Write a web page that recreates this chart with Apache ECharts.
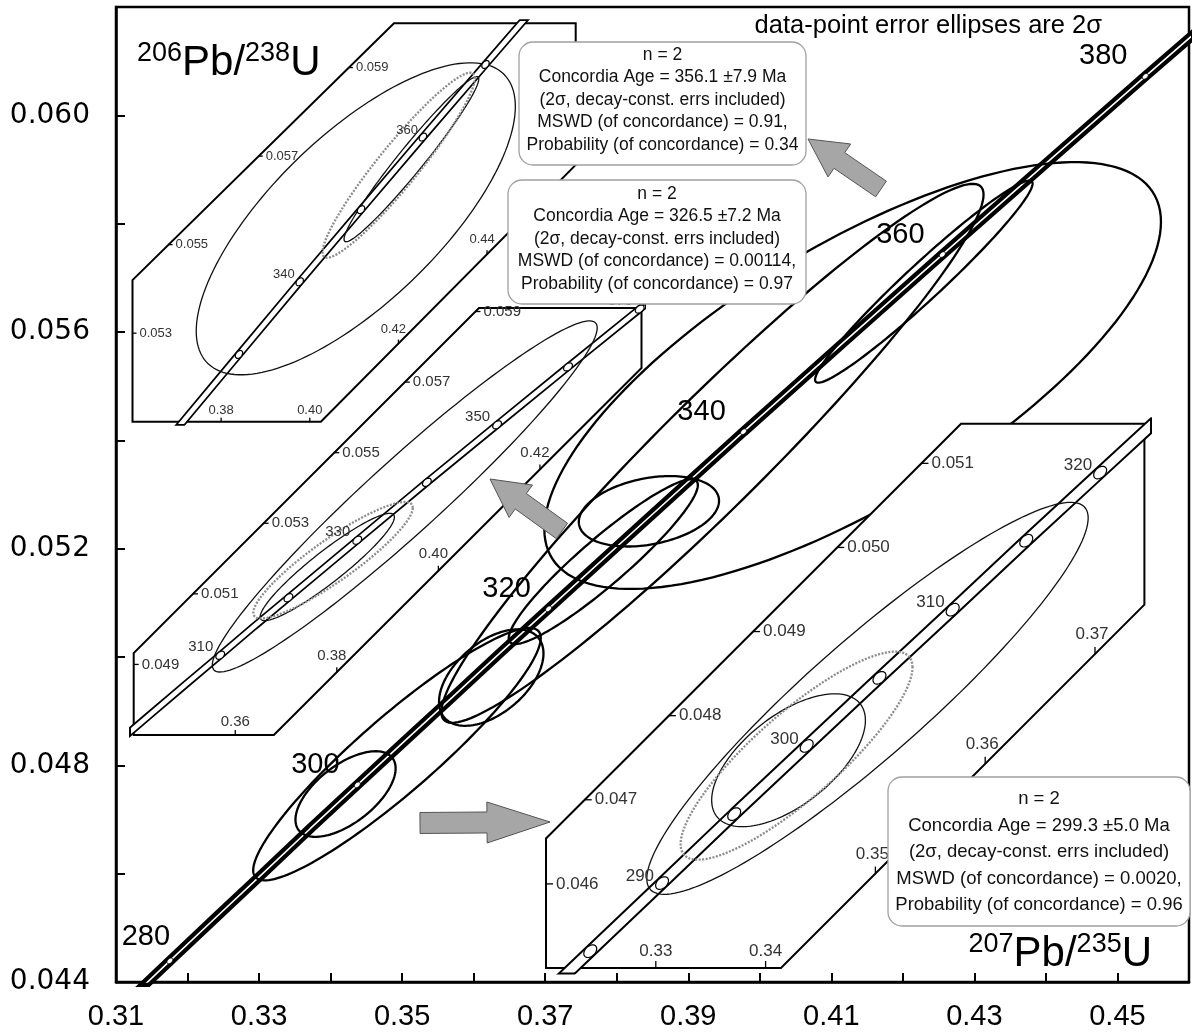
<!DOCTYPE html>
<html>
<head>
<meta charset="utf-8">
<title>U-Pb Concordia</title>
<script src="https://cdn.jsdelivr.net/npm/echarts@6.0.0/dist/echarts.min.js"></script>
<style>
html,body{margin:0;padding:0;background:#ffffff;}
#chart{width:1192px;height:1035px;}
</style>
</head>
<body>
<div id="chart"></div>
<script>
// ================= DATA =================
// Concordia curve points (age Ma, 207Pb/235U, 206Pb/238U)
const concAge = [270, 280, 285, 290, 295, 300, 305, 310, 315, 320, 330, 340, 350, 360, 370, 380, 390];
const concX   = [0.30462, 0.31753, 0.32403, 0.33057, 0.33714, 0.34374, 0.35037, 0.35704, 0.36374, 0.37047, 0.38403, 0.39773, 0.41156, 0.42553, 0.43964, 0.45389, 0.46828];
const concY   = [0.04277, 0.04439, 0.04520, 0.04601, 0.04683, 0.04764, 0.04845, 0.04926, 0.05008, 0.05089, 0.05252, 0.05416, 0.05579, 0.05743, 0.05907, 0.06072, 0.06237];

// Main axis ranges and tick labels
const mainXRange = [0.31, 0.46];
const mainYRange = [0.044, 0.062];
const mainXTickLabels = ['0.31', '0.33', '0.35', '0.37', '0.39', '0.41', '0.43', '0.45'];
const mainYTickLabels = ['0.044', '0.048', '0.052', '0.056', '0.060'];
const mainAgeMarks = [280, 300, 320, 340, 360, 380];

// Main-diagram error ellipses (2 sigma half-widths)
const mainSpotX   = [0.34209, 0.34928, 0.37812, 0.39338, 0.42293, 0.41298, 0.36246, 0.38450];
const mainSpotSX  = [0.00700, 0.02010, 0.01322, 0.03790, 0.01520, 0.04310, 0.00730, 0.00980];
const mainSpotY   = [0.04747, 0.048206, 0.05176, 0.05376, 0.05693, 0.055196, 0.04962, 0.05269];
const mainSpotSY  = [0.00079, 0.00233, 0.00152, 0.004975, 0.001865, 0.00394, 0.00089, 0.00065];
const mainSpotRho = [0.60, 0.92, 0.93, 0.96, 0.97, 0.72, 0.50, 0.30];

// Inset error ellipses; group: 0 = 299 Ma, 1 = 326 Ma, 2 = 356 Ma
const insetSpotGroup = [0, 0, 1, 1, 2, 2];
const insetSpotX     = [0.34209, 0.34928, 0.37812, 0.39338, 0.42293, 0.41038];
const insetSpotSX    = [0.00700, 0.02010, 0.01322, 0.03790, 0.01520, 0.03600];
const insetSpotY     = [0.04747, 0.048206, 0.05176, 0.05376, 0.05693, 0.055584];
const insetSpotSY    = [0.00079, 0.00233, 0.00152, 0.004975, 0.001865, 0.003524];
const insetSpotRho   = [0.60, 0.92, 0.93, 0.96, 0.97, 0.72];

// Concordia-age results per group
const groupN      = [2, 2, 2];
const groupAge    = [299.3, 326.5, 356.1];
const groupAgeErr = [5.0, 7.2, 7.9];
const groupMSWD   = ['0.0020', '0.00114', '0.91'];
const groupProb   = ['0.96', '0.97', '0.34'];
const cAgeX   = [0.34282, 0.37926, 0.42005];
const cAgeSX  = [0.01056, 0.01570, 0.01717];
const cAgeY   = [0.047524, 0.051953, 0.056794];
const cAgeSY  = [0.001237, 0.00165, 0.00209];
const cAgeRho = [0.85, 0.90, 0.94];

// Inset 1 (356 Ma group)
const inset1XRange = [0.36, 0.46];
const inset1YRange = [0.051, 0.060];
const inset1Frame  = [[0.36, 0.051], [0.4025, 0.051], [0.46, 0.0568], [0.46, 0.060], [0.419, 0.060], [0.36, 0.0542]];
const inset1XTicks = [0.38, 0.40, 0.42, 0.44];
const inset1YTicks = [0.053, 0.055, 0.057, 0.059];
const inset1Marks  = [330, 340, 350, 360, 370];
const inset1AgeLabels = [340, 360];

// Inset 2 (326 Ma group)
const inset2XRange = [0.34, 0.44];
const inset2YRange = [0.047, 0.0591];
const inset2Frame  = [[0.34, 0.047], [0.3676, 0.047], [0.44, 0.0574], [0.44, 0.0591], [0.408, 0.0591], [0.34, 0.04932]];
const inset2XTicks = [0.36, 0.38, 0.40, 0.42];
const inset2YTicks = [0.049, 0.051, 0.053, 0.055, 0.057, 0.059];
const inset2Marks  = [310, 320, 330, 340, 350, 360, 370];
const inset2AgeLabels = [310, 330, 350, 370];

// Inset 3 (299 Ma group)
const inset3XRange = [0.32, 0.3745];
const inset3YRange = [0.045, 0.05147];
const inset3Frame  = [[0.32, 0.045], [0.3414, 0.045], [0.3745, 0.04932], [0.3745, 0.05147], [0.3578, 0.05147], [0.32, 0.04654]];
const inset3XTicks = [0.33, 0.34, 0.35, 0.36, 0.37];
const inset3YTicks = [0.046, 0.047, 0.048, 0.049, 0.050, 0.051];
const inset3Marks  = [285, 290, 295, 300, 305, 310, 315, 320];
const inset3AgeLabels = [290, 300, 310, 320];

// ================= LAYOUT / STYLE =================
const FONT = '"Liberation Sans", Arial, Helvetica, sans-serif';
const G0 = {left: 116, top: 7, width: 1074, height: 975};
const G1 = {left: 132.5, top: 23.3, width: 443.2, height: 398.4};
const G2 = {left: 133.7, top: 308, width: 507.8, height: 427};
const G3 = {left: 546, top: 423.8, width: 598.4, height: 544.2};

const panels = [
  {grid: G1, xr: inset1XRange, yr: inset1YRange, frame: inset1Frame, xt: inset1XTicks, yt: inset1YTicks,
   marks: inset1Marks, labels: inset1AgeLabels, group: 2, font: 13, tickLen: 4, bandW: 8, bandIn: 4.6,
   markA: 9, markB: 6, labDx: -5, labDy: -7, xLabDx: -5},
  {grid: G2, xr: inset2XRange, yr: inset2YRange, frame: inset2Frame, xt: inset2XTicks, yt: inset2YTicks,
   marks: inset2Marks, labels: inset2AgeLabels, group: 1, font: 15, tickLen: 5, bandW: 8, bandIn: 4.6,
   markA: 10, markB: 6.5, labDx: -7, labDy: -8, xLabDx: -5},
  {grid: G3, xr: inset3XRange, yr: inset3YRange, frame: inset3Frame, xt: inset3XTicks, yt: inset3YTicks,
   marks: inset3Marks, labels: inset3AgeLabels, group: 0, font: 17, tickLen: 7, bandW: 13, bandIn: 9,
   markA: 15, markB: 10, labDx: -8, labDy: -7, xLabDx: -3}
];

const concData = concX.map((x, i) => [x, concY[i]]);

function edgeHit(poly, v, isX) {
  let best = null;
  const ia = isX ? 0 : 1, ib = isX ? 1 : 0;
  for (let i = 0; i < poly.length; i++) {
    const a = poly[i], b = poly[(i + 1) % poly.length];
    const lo = Math.min(a[ia], b[ia]), hi = Math.max(a[ia], b[ia]);
    if (hi - lo < 1e-12 || v < lo - 1e-9 || v > hi + 1e-9) continue;
    const t = (v - a[ia]) / (b[ia] - a[ia]);
    const w = a[ib] + t * (b[ib] - a[ib]);
    const diag = Math.abs(a[ib] - b[ib]) > 1e-12;
    if (best === null || w < best.w) best = {w: w, diag: diag};
  }
  return best;
}

function lineSeries(ai, color, width, z) {
  return {type: 'line', xAxisIndex: ai, yAxisIndex: ai, data: concData, symbol: 'none', showSymbol: false,
    smooth: false, silent: true, animation: false, z: z, clip: true,
    lineStyle: {color: color, width: width, cap: 'butt'}};
}

function ellipseSeries(ai, list, z) {
  return {type: 'custom', xAxisIndex: ai, yAxisIndex: ai, z: z, silent: true, animation: false,
    data: list.map(e => [e.x, e.y]),
    renderItem: function (params, api) {
      const e = list[params.dataIndex];
      const k = Math.sqrt(1 - e.r * e.r);
      const pts = [];
      for (let i = 0; i < 160; i++) {
        const t = i / 160 * Math.PI * 2;
        pts.push(api.coord([e.x + e.sx * Math.cos(t), e.y + e.sy * (e.r * Math.cos(t) + k * Math.sin(t))]));
      }
      return {type: 'polygon', shape: {points: pts},
        style: {fill: 'none', stroke: e.color, lineWidth: e.lw, lineDash: e.dash || null}};
    }};
}

function marksSeries(ai, ages, labels, opt, z) {
  return {type: 'custom', xAxisIndex: ai, yAxisIndex: ai, z: z, silent: true, animation: false,
    data: ages.map(a => { const j = concAge.indexOf(a); return [concX[j], concY[j]]; }),
    renderItem: function (params, api) {
      const a = ages[params.dataIndex];
      const j = concAge.indexOf(a);
      const p = api.coord([concX[j], concY[j]]);
      const j0 = Math.max(0, j - 1), j1 = Math.min(concAge.length - 1, j + 1);
      const q0 = api.coord([concX[j0], concY[j0]]), q1 = api.coord([concX[j1], concY[j1]]);
      const ang = Math.atan2(q1[1] - q0[1], q1[0] - q0[0]);
      const ca = Math.cos(ang), sa = Math.sin(ang);
      const pts = [];
      for (let i = 0; i < 40; i++) {
        const t = i / 40 * Math.PI * 2;
        const u = opt.a / 2 * Math.cos(t), v = opt.b / 2 * Math.sin(t);
        pts.push([p[0] + u * ca - v * sa, p[1] + u * sa + v * ca]);
      }
      const children = [{type: 'polygon', shape: {points: pts}, style: {fill: '#fff', stroke: '#000', lineWidth: opt.mlw}}];
      if (labels.indexOf(a) >= 0) {
        const off = (opt.special && opt.special[a]) || [opt.dx, opt.dy];
        children.push({type: 'text', style: {text: String(a), x: p[0] + off[0], y: p[1] + off[1],
          align: opt.align, verticalAlign: 'middle', font: opt.fontSize + 'px ' + FONT, fill: opt.color}});
      }
      return {type: 'group', children: children};
    }};
}

function frameSeries(ai, P, z) {
  return {type: 'custom', xAxisIndex: ai, yAxisIndex: ai, z: z, silent: true, animation: false,
    data: [[P.xr[0], P.yr[0]]],
    renderItem: function (params, api) {
      return {type: 'polygon', shape: {points: P.frame.map(q => api.coord(q))},
        style: {fill: '#ffffff', stroke: '#000', lineWidth: 2}};
    }};
}

function ticksSeries(ai, P, z) {
  const items = [];
  P.xt.forEach(v => { const h = edgeHit(P.frame, v, true); if (h) items.push({kind: 'x', v: v, w: h.w, diag: h.diag, text: v.toFixed(2)}); });
  P.yt.forEach(v => { const h = edgeHit(P.frame, v, false); if (h) items.push({kind: 'y', v: v, w: h.w, diag: h.diag, text: v.toFixed(3)}); });
  return {type: 'custom', xAxisIndex: ai, yAxisIndex: ai, z: z, silent: true, animation: false,
    data: items.map(it => it.kind === 'x' ? [it.v, it.w] : [it.w, it.v]),
    renderItem: function (params, api) {
      const it = items[params.dataIndex];
      const p = api.coord(it.kind === 'x' ? [it.v, it.w] : [it.w, it.v]);
      const L = P.tickLen;
      const font = P.font + 'px ' + FONT;
      if (it.kind === 'x') {
        return {type: 'group', children: [
          {type: 'line', shape: {x1: p[0], y1: p[1], x2: p[0], y2: p[1] - L}, style: {stroke: '#000', lineWidth: 1.3}},
          {type: 'text', style: {text: it.text, x: p[0] + (it.diag ? P.xLabDx : 0), y: p[1] - L - (it.diag ? 4 : 1),
            align: 'center', verticalAlign: 'bottom', font: font, fill: '#333'}}
        ]};
      }
      return {type: 'group', children: [
        {type: 'line', shape: {x1: p[0], y1: p[1], x2: p[0] + L, y2: p[1]}, style: {stroke: '#000', lineWidth: 1.3}},
        {type: 'text', style: {text: it.text, x: p[0] + L + 3, y: p[1], align: 'left', verticalAlign: 'middle', font: font, fill: '#333'}}
      ]};
    }};
}

// ================= SERIES =================
const series = [];
// main panel
series.push(lineSeries(0, '#000', 10, 2));
series.push(lineSeries(0, '#fff', 1.6, 3));
series.push(ellipseSeries(0, mainSpotX.map((x, i) => ({x: x, sx: mainSpotSX[i], y: mainSpotY[i], sy: mainSpotSY[i],
  r: mainSpotRho[i], color: '#000', lw: 2.3})), 4));
series.push(marksSeries(0, mainAgeMarks, mainAgeMarks,
  {a: 7, b: 4.5, mlw: 1, dx: -42, dy: -20, align: 'center', fontSize: 29, color: '#000', special: {280: [-24, -24]}}, 5));

panels.forEach((P, k) => {
  const ai = k + 1;
  series.push(frameSeries(ai, P, 10));
  series.push(lineSeries(ai, '#000', P.bandW, 11));
  series.push(lineSeries(ai, '#fff', P.bandIn, 12));
  const list = [];
  insetSpotGroup.forEach((g, i) => {
    if (g === P.group) list.push({x: insetSpotX[i], sx: insetSpotSX[i], y: insetSpotY[i], sy: insetSpotSY[i],
      r: insetSpotRho[i], color: '#111', lw: 1.3});
  });
  const g = P.group;
  list.push({x: cAgeX[g], sx: cAgeSX[g], y: cAgeY[g], sy: cAgeSY[g], r: cAgeRho[g], color: '#8c8c8c', lw: 2.3, dash: [2, 1.5]});
  series.push(ellipseSeries(ai, list, 13));
  series.push(marksSeries(ai, P.marks, P.labels,
    {a: P.markA, b: P.markB, mlw: 1.2, dx: P.labDx, dy: P.labDy, align: 'right', fontSize: P.font, color: '#333'}, 14));
  series.push(ticksSeries(ai, P, 15));
});

// ================= GRAPHICS (boxes, arrows, titles) =================
function arrowPts(tail, tip, sw, hw, hl) {
  const dx = tip[0] - tail[0], dy = tip[1] - tail[1];
  const L = Math.hypot(dx, dy), ux = dx / L, uy = dy / L, nx = -uy, ny = ux;
  const bx = tip[0] - ux * hl, by = tip[1] - uy * hl;
  return [
    [tail[0] + nx * sw / 2, tail[1] + ny * sw / 2],
    [bx + nx * sw / 2, by + ny * sw / 2],
    [bx + nx * hw / 2, by + ny * hw / 2],
    tip,
    [bx - nx * hw / 2, by - ny * hw / 2],
    [bx - nx * sw / 2, by - ny * sw / 2],
    [tail[0] - nx * sw / 2, tail[1] - ny * sw / 2]
  ];
}

const graphics = [];
const boxLayout = [
  {g: 2, x: 519, y: 42, w: 287, h: 123, y0: 55, lh: 22.5, font: 17.5},
  {g: 1, x: 508, y: 180, w: 298, h: 124, y0: 194, lh: 22.5, font: 17.5},
  {g: 0, x: 888, y: 777, w: 302, h: 149, y0: 799, lh: 26.5, font: 18.5}
];
boxLayout.forEach(b => {
  const g = b.g;
  const lines = [
    'n = ' + groupN[g],
    'Concordia Age = ' + groupAge[g].toFixed(1) + ' \u00B1' + groupAgeErr[g].toFixed(1) + ' Ma',
    '(2\u03C3, decay-const. errs included)',
    'MSWD (of concordance) = ' + groupMSWD[g] + ',',
    'Probability (of concordance) = ' + groupProb[g]
  ];
  graphics.push({type: 'rect', z: 50, silent: true, shape: {x: b.x, y: b.y, width: b.w, height: b.h, r: 14},
    style: {fill: '#fff', stroke: '#a0a0a0', lineWidth: 1.3}});
  lines.forEach((t, i) => {
    graphics.push({type: 'text', z: 51, silent: true, x: b.x + b.w / 2, y: b.y0 + i * b.lh,
      style: {text: t, align: 'center', verticalAlign: 'middle', font: b.font + 'px ' + FONT, fill: '#111'}});
  });
});

const arrowStyle = {fill: '#a6a6a6', stroke: '#555', lineWidth: 1};
[
  {tail: [881, 189], tip: [808, 139], sw: 19, hw: 40, hl: 38},
  {tail: [562, 531], tip: [490, 479], sw: 19, hw: 40, hl: 38},
  {tail: [420, 823], tip: [550, 822], sw: 21, hw: 41, hl: 63}
].forEach(a => {
  graphics.push({type: 'polygon', z: 52, silent: true, shape: {points: arrowPts(a.tail, a.tip, a.sw, a.hw, a.hl)}, style: arrowStyle});
});

const titleRich = {
  s: {fontSize: 27, fontFamily: FONT, verticalAlign: 'top', lineHeight: 27, fill: '#000'},
  m: {fontSize: 42, fontFamily: FONT, lineHeight: 47, fill: '#000'}
};
graphics.push({type: 'text', z: 60, silent: true, x: 137, y: 40,
  style: {text: '{s|206}{m|Pb/}{s|238}{m|U}', rich: titleRich, align: 'left', verticalAlign: 'top'}});
graphics.push({type: 'text', z: 60, silent: true, x: 1152, y: 931,
  style: {text: '{s|207}{m|Pb/}{s|235}{m|U}', rich: titleRich, align: 'right', verticalAlign: 'top'}});
graphics.push({type: 'text', z: 60, silent: true, x: 1102, y: 26,
  style: {text: 'data-point error ellipses are 2\u03C3', align: 'right', verticalAlign: 'middle', font: '25.5px ' + FONT, fill: '#000'}});

// ================= OPTION =================
function hiddenAxis(gi, r) { return {type: 'value', gridIndex: gi, min: r[0], max: r[1], show: false, scale: true}; }

const option = {
  animation: false,
  backgroundColor: '#ffffff',
  grid: [
    Object.assign({show: true, borderColor: '#000', borderWidth: 2.5, backgroundColor: 'transparent', containLabel: false}, G0),
    Object.assign({containLabel: false}, G1),
    Object.assign({containLabel: false}, G2),
    Object.assign({containLabel: false}, G3)
  ],
  xAxis: [
    {type: 'value', gridIndex: 0, min: mainXRange[0], max: mainXRange[1], interval: 0.01,
      axisLine: {onZero: false, lineStyle: {color: '#000', width: 2.5}},
      axisTick: {inside: true, length: 9, lineStyle: {color: '#000', width: 2}},
      splitLine: {show: false},
      axisLabel: {margin: 20, color: '#000', fontSize: 29, fontFamily: FONT,
        formatter: v => { const s = v.toFixed(2); return mainXTickLabels.indexOf(s) >= 0 ? s : ''; }}},
    hiddenAxis(1, inset1XRange), hiddenAxis(2, inset2XRange), hiddenAxis(3, inset3XRange)
  ],
  yAxis: [
    {type: 'value', gridIndex: 0, min: mainYRange[0], max: mainYRange[1], interval: 0.002,
      axisLine: {onZero: false, lineStyle: {color: '#000', width: 2.5}},
      axisTick: {inside: true, length: 9, lineStyle: {color: '#000', width: 2}},
      splitLine: {show: false},
      axisLabel: {margin: 26, color: '#000', fontSize: 28, fontFamily: '"DejaVu Sans", Verdana, sans-serif',
        formatter: v => { const s = v.toFixed(3); return mainYTickLabels.indexOf(s) >= 0 ? s : ''; }}},
    hiddenAxis(1, inset1YRange), hiddenAxis(2, inset2YRange), hiddenAxis(3, inset3YRange)
  ],
  series: series,
  graphic: {elements: graphics}
};

const chart = echarts.init(document.getElementById('chart'), null, {renderer: 'canvas'});
chart.setOption(option);
</script>
</body>
</html>
